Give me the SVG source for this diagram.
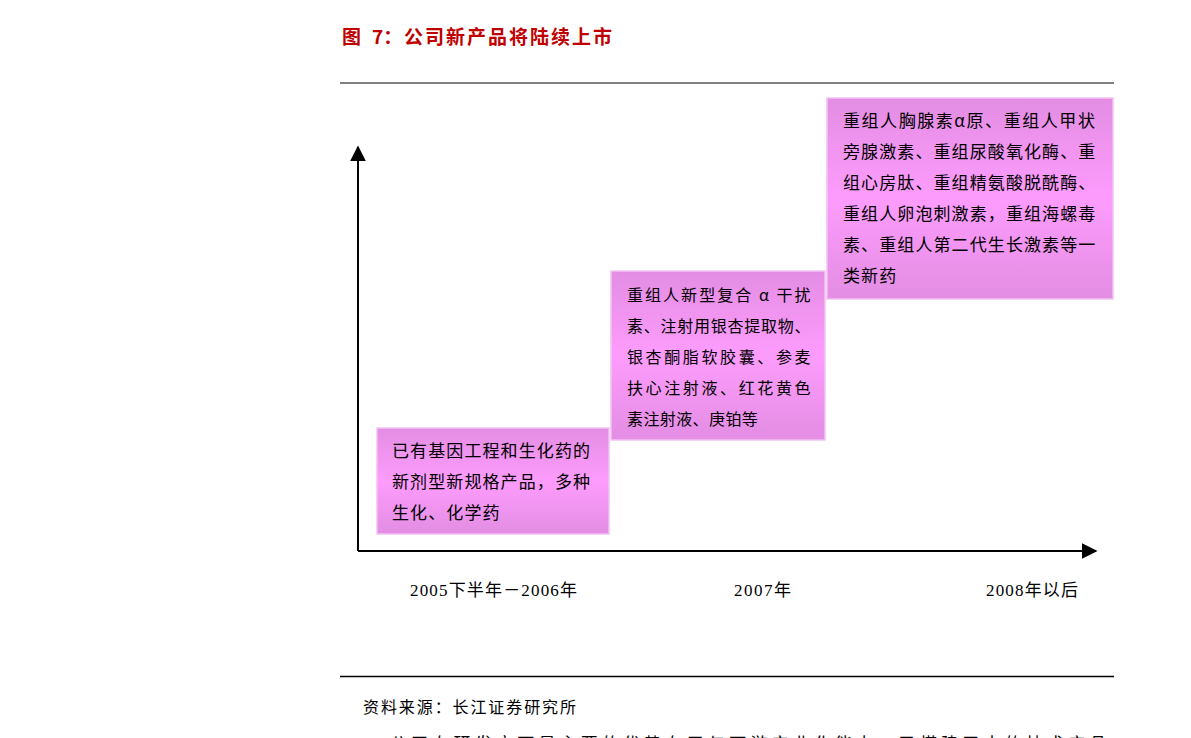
<svg xmlns="http://www.w3.org/2000/svg" width="1191" height="738" viewBox="0 0 1191 738">
<style>
.cjk{font-family:"Noto Sans CJK SC","Noto Sans",sans-serif;}
.title{font-size:19px;fill:#c00000;font-weight:bold;}
.bt{font-size:17px;fill:#000;letter-spacing:1.1px;}
.bt2{font-size:16px;fill:#000;letter-spacing:0.4px;}
.lab{font-family:"Liberation Serif","Noto Sans CJK SC",serif;font-size:17px;fill:#000;}
.src{font-size:16px;fill:#000;}
.box{fill:url(#pink);stroke:#f3c2f3;stroke-width:1.5;}
</style>
<defs>
<linearGradient id="pink" x1="0" y1="0" x2="0" y2="1">
<stop offset="0" stop-color="#e38de3"/>
<stop offset="0.5" stop-color="#fd9cfd"/>
<stop offset="1" stop-color="#e38de3"/>
</linearGradient>
<marker id="ah" viewBox="0 0 10 10" refX="9" refY="5" markerWidth="16" markerHeight="16" markerUnits="userSpaceOnUse" orient="auto">
<path d="M0,0 L10,5 L0,10 z" fill="#000"/>
</marker>
</defs>
<rect width="1191" height="738" fill="#fff"/>
<g id="title" class="cjk title">
<text x="342" y="44">图</text>
<text x="372" y="44">7：</text>
<text x="404" y="44" style="letter-spacing:2px">公司新产品将陆续上市</text>
</g>
<line x1="340" y1="83" x2="1114" y2="83" stroke="#808080" stroke-width="2"/>
<line x1="340" y1="676.5" x2="1114" y2="676.5" stroke="#000" stroke-width="1.5"/>
<g id="connectors" stroke="#000" stroke-width="2" fill="none">
<line x1="358" y1="551" x2="358" y2="147" marker-end="url(#ah)"/>
<line x1="358" y1="551" x2="1096" y2="551" marker-end="url(#ah)"/>
</g>
<g id="node-2005">
<rect class="box" x="377" y="428" width="232" height="106"/>
<text class="cjk bt" x="392" y="457">已有基因工程和生化药的</text>
<text class="cjk bt" x="392" y="488">新剂型新规格产品，多种</text>
<text class="cjk bt" x="392" y="519">生化、化学药</text>
</g>
<g id="node-2007">
<rect class="box" x="611" y="271" width="214" height="169"/>
<text class="cjk bt2" x="627" y="301" textLength="184" lengthAdjust="spacing">重组人新型复合 α 干扰</text>
<text class="cjk bt2" x="627" y="332" textLength="184" lengthAdjust="spacing">素、注射用银杏提取物、</text>
<text class="cjk bt2" x="627" y="363" textLength="184" lengthAdjust="spacing">银杏酮脂软胶囊、参麦</text>
<text class="cjk bt2" x="627" y="394" textLength="184" lengthAdjust="spacing">扶心注射液、红花黄色</text>
<text class="cjk bt2" x="627" y="425">素注射液、庚铂等</text>
</g>
<g id="node-2008">
<rect class="box" x="827" y="98" width="286" height="201"/>
<text class="cjk bt" x="843" y="127" textLength="253" lengthAdjust="spacing">重组人胸腺素α原、重组人甲状</text>
<text class="cjk bt" x="843" y="158">旁腺激素、重组尿酸氧化酶、重</text>
<text class="cjk bt" x="843" y="189">组心房肽、重组精氨酸脱酰酶、</text>
<text class="cjk bt" x="843" y="220">重组人卵泡刺激素，重组海螺毒</text>
<text class="cjk bt" x="843" y="251">素、重组人第二代生长激素等一</text>
<text class="cjk bt" x="843" y="282">类新药</text>
</g>
<g id="axis-labels">
<text class="lab" x="410" y="596" textLength="167" lengthAdjust="spacing">2005下半年－2006年</text>
<text class="lab" x="734" y="596" textLength="57" lengthAdjust="spacing">2007年</text>
<text class="lab" x="986" y="596" textLength="92" lengthAdjust="spacing">2008年以后</text>
</g>
<text class="cjk src" x="363" y="713" textLength="213" lengthAdjust="spacing">资料来源：长江证券研究所</text>
<text class="cjk" x="390" y="750" style="font-size:17px;letter-spacing:4.2px" fill="#000">公司在研发方面最主要的优势在于与下游产业化能力，已搭建了大的技术产品</text>
</svg>
